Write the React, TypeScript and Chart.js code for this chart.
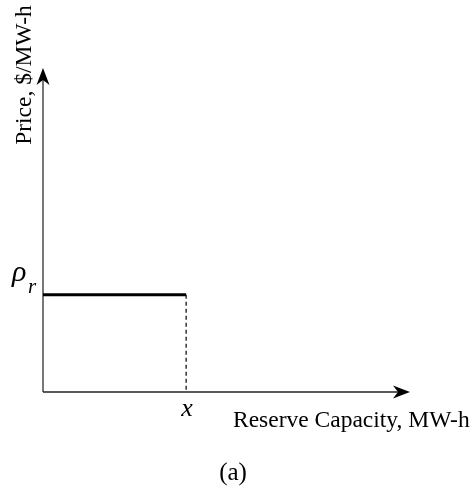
import React, { useEffect, useRef } from "react";
import { Chart, registerables } from "chart.js";

Chart.register(...registerables);

// Axis extents (arbitrary units, arrows at the max)
const xAxisMax = [10];
const yAxisMax = [10];

// Reserve offer: price level rho_r up to capacity x
const offerX = [0, 3.9];
const offerY = [3.0, 3.0];
const dropX = [3.9, 3.9];
const dropY = [3.0, 0];

// Labels
const yTickMain = ["ρ"];
const yTickSub = ["r"];
const xTickLabel = ["x"];
const xTitle = ["Reserve Capacity, MW-h"];
const yTitle = ["Price, $/MW-h"];
const caption = ["(a)"];

const FONT = '"Liberation Serif", "Times New Roman", serif';

function arrowHead(ctx: CanvasRenderingContext2D, tipX: number, tipY: number, dir: "up" | "right") {
  ctx.save();
  ctx.translate(tipX, tipY);
  if (dir === "right") ctx.rotate(Math.PI / 2);
  ctx.beginPath();
  ctx.moveTo(0, 0);
  ctx.lineTo(-6.5, 17);
  ctx.lineTo(0, 12);
  ctx.lineTo(6.5, 17);
  ctx.closePath();
  ctx.fillStyle = "#000";
  ctx.fill();
  ctx.restore();
}

const decorPlugin = {
  id: "decor",
  beforeDatasetsDraw(chart: any) {
    const ctx: CanvasRenderingContext2D = chart.ctx;
    const xs = chart.scales.x;
    const ys = chart.scales.y;
    const x0 = xs.getPixelForValue(0);
    const y0 = ys.getPixelForValue(0);
    const xEnd = xs.getPixelForValue(xAxisMax[0]);
    const yEnd = ys.getPixelForValue(yAxisMax[0]);
    ctx.save();
    ctx.strokeStyle = "#555";
    ctx.lineWidth = 1.6;
    ctx.beginPath();
    ctx.moveTo(x0, y0);
    ctx.lineTo(x0, yEnd + 4);
    ctx.stroke();
    ctx.strokeStyle = "#222";
    ctx.lineWidth = 1.4;
    ctx.beginPath();
    ctx.moveTo(x0, y0);
    ctx.lineTo(xEnd - 4, y0);
    ctx.stroke();
    ctx.restore();
    arrowHead(ctx, x0, yEnd, "up");
    arrowHead(ctx, xEnd, y0, "right");
  },
  afterDraw(chart: any) {
    const ctx: CanvasRenderingContext2D = chart.ctx;
    const xs = chart.scales.x;
    const ys = chart.scales.y;
    const x0 = xs.getPixelForValue(0);
    const y0 = ys.getPixelForValue(0);
    const xEnd = xs.getPixelForValue(xAxisMax[0]);
    const yEnd = ys.getPixelForValue(yAxisMax[0]);
    const ry = ys.getPixelForValue(offerY[0]);
    const cx = xs.getPixelForValue(dropX[0]);
    ctx.save();
    ctx.fillStyle = "#000";
    // rho_r tick
    ctx.font = `italic 30px ${FONT}`;
    ctx.textAlign = "left";
    ctx.textBaseline = "alphabetic";
    ctx.fillText(yTickMain[0], x0 - 31, ry - 14);
    ctx.font = `italic 21px ${FONT}`;
    ctx.fillText(yTickSub[0], x0 - 15, ry - 2);
    // x tick
    ctx.font = `italic 26px ${FONT}`;
    ctx.textAlign = "center";
    ctx.fillText(xTickLabel[0], cx + 1, y0 + 24);
    // x title
    ctx.font = `23.5px ${FONT}`;
    ctx.textAlign = "left";
    ctx.fillText(xTitle[0], 233, y0 + 35);
    // caption
    ctx.font = `25px ${FONT}`;
    ctx.textAlign = "center";
    ctx.fillText(caption[0], 233, y0 + 88);
    // y title rotated
    ctx.font = `23.5px ${FONT}`;
    ctx.save();
    ctx.translate(x0 - 12, yEnd + 7);
    ctx.rotate(-Math.PI / 2);
    ctx.textAlign = "center";
    ctx.fillText(yTitle[0], 0, 0);
    ctx.restore();
    ctx.restore();
  },
};

export default function App() {
  const ref = useRef<HTMLCanvasElement | null>(null);
  useEffect(() => {
    if (!ref.current) return;
    const chart = new Chart(ref.current, {
      type: "line",
      data: {
        datasets: [
          {
            data: offerX.map((x, i) => ({ x, y: offerY[i] })),
            borderColor: "#000",
            borderWidth: 3,
            pointRadius: 0,
            fill: false,
          },
          {
            data: dropX.map((x, i) => ({ x, y: dropY[i] })),
            borderColor: "#000",
            borderWidth: 1.2,
            borderDash: [4, 3],
            pointRadius: 0,
            fill: false,
          },
        ],
      },
      options: {
        animation: false,
        responsive: false,
        devicePixelRatio: 1,
        layout: { padding: { left: 43, right: 63, top: 68, bottom: 99 } },
        plugins: { legend: { display: false }, tooltip: { enabled: false } },
        scales: {
          x: { type: "linear", min: 0, max: xAxisMax[0], display: false },
          y: { type: "linear", min: 0, max: yAxisMax[0], display: false },
        },
      },
      plugins: [decorPlugin],
    });
    return () => chart.destroy();
  }, []);
  return (
    <div style={{ position: "fixed", left: 0, top: 0, width: 473, height: 491, background: "#fff" }}>
      <canvas ref={ref} width={473} height={491} />
    </div>
  );
}
